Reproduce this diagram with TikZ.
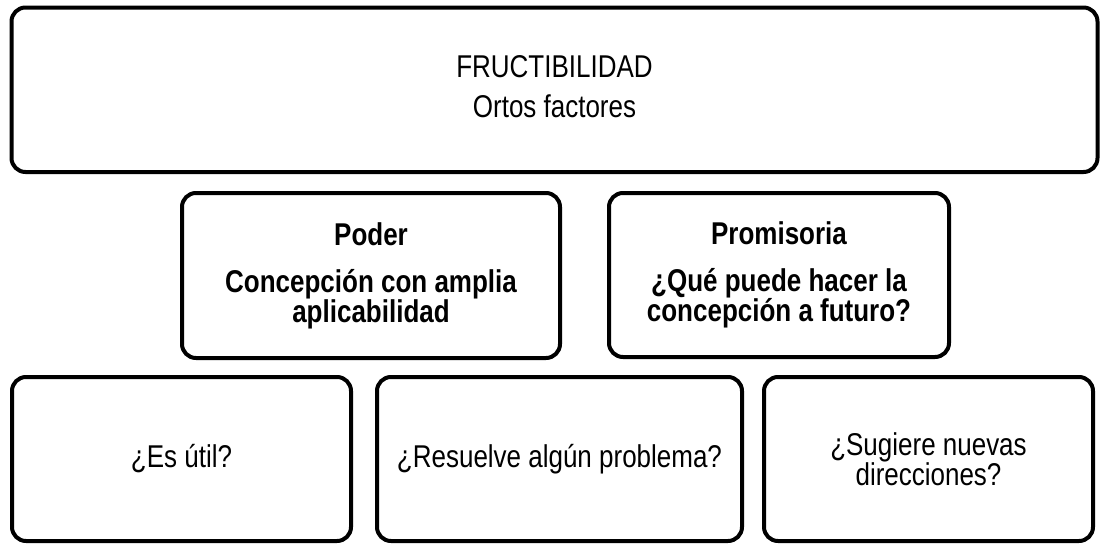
\documentclass[tikz,border=0pt]{standalone}
\usepackage{fontspec}
\setmainfont{Liberation Sans}[FakeStretch=0.825]
\begin{document}
\begin{tikzpicture}[x=1pt,y=-1pt,
  box/.style={draw=black, line width=4pt, rounded corners=14pt, align=center,
    inner sep=0pt, font=\fontsize{31.5}{27}\selectfont},
  midbox/.style={box, font=\fontsize{31.5}{30}\selectfont\bfseries},
  txt/.style={inner sep=0pt, anchor=base, font=\fontsize{31.5}{30}\selectfont}]
\useasboundingbox (0,0) rectangle (1103,544);
\node[box, minimum width=1086pt, minimum height=164.5pt] (top) at (554.5,89.75) {};
\node[txt] (t1) at (554.5,77) {FRUCTIBILIDAD};
\node[txt] (t2) at (554.5,117) {Ortos factores};
\node[midbox, minimum width=378pt, minimum height=165pt] (poder) at (371,275.5)
  {Poder\\[17pt]Concepción con amplia\\aplicabilidad};
\node[midbox, minimum width=340pt, minimum height=164pt] (prom) at (779,275)
  {Promisoria\\[17pt]¿Qué puede hacer la\\concepción a futuro?};
\node[box, minimum width=339pt, minimum height=164pt] (util) at (181.5,459)
  {¿Es útil?};
\node[box, minimum width=365pt, minimum height=164pt] (resuelve) at (559.5,459)
  {¿Resuelve algún problema?};
\node[box, minimum width=329pt, minimum height=164pt] (sugiere) at (928.5,459)
  {¿Sugiere nuevas\\direcciones?};
\end{tikzpicture}
\end{document}
